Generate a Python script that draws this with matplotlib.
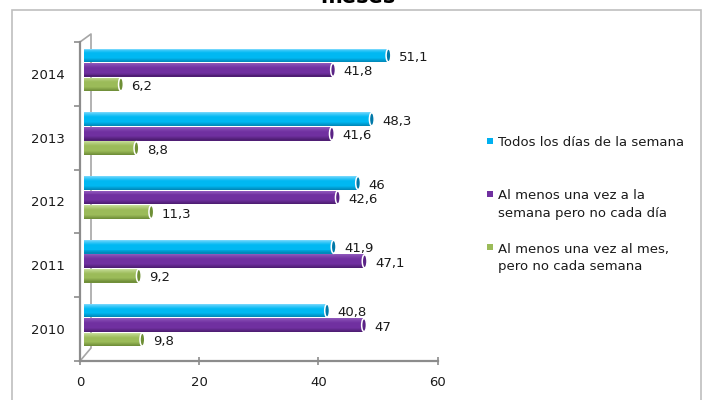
import numpy as np
import matplotlib
matplotlib.use("Agg")
import matplotlib.pyplot as plt
from matplotlib.patches import Ellipse, Rectangle
from matplotlib.transforms import ScaledTranslation

years = ["2010", "2011", "2012", "2013", "2014"]
series_names = ["Todos los días de la semana",
                "Al menos una vez a la\nsemana pero no cada día",
                "Al menos una vez al mes,\npero no cada semana"]
todos = [40.8, 41.9, 46.0, 48.3, 51.1]
semana = [47.0, 47.1, 42.6, 41.6, 41.8]
mes = [9.8, 9.2, 11.3, 8.8, 6.2]
x_ticks = [0, 20, 40, 60]
title = "meses"

series = [todos, semana, mes]
# (top highlight, main, bottom shade, cap)
palettes = [
    ("#8CDDFF", "#00B8F2", "#0085B5", "#0078A8"),
    ("#9560C0", "#7030A0", "#4A1C6E", "#5A2385"),
    ("#CFE3A6", "#9BBB59", "#6B8A36", "#6E8F35"),
]
legend_colors = ["#00B0F0", "#7030A0", "#9BBB59"]
group_offsets = [0.227, 0.0, -0.227]
bar_h = 0.21

W, H = 703, 400
fig = plt.figure(figsize=(W / 100, H / 100), dpi=100)
ax = fig.add_axes([80 / W, 39 / H, 357.5 / W, 319 / H])
ax.set_xlim(0, 60)
ax.set_ylim(-0.5, 4.5)

shift = ax.transData + ScaledTranslation(4 / 100, 4 / 100, fig.dpi_scale_trans)


def hex2rgb(h):
    return np.array(matplotlib.colors.to_rgb(h))


ypos = np.arange(len(years))
nstrip = 14
for s, vals in enumerate(series):
    top, mid, bot, cap = palettes[s]
    ct, cm, cb = hex2rgb(top), hex2rgb(mid), hex2rgb(bot)
    yc = ypos + group_offsets[s]
    for k in range(nstrip):
        f = (k + 0.5) / nstrip  # 0 top -> 1 bottom
        if f < 0.35:
            col = ct + (cm - ct) * (f / 0.35) ** 0.7
        elif f < 0.7:
            col = cm
        else:
            col = cm + (cb - cm) * ((f - 0.7) / 0.3)
        yk = yc + bar_h / 2 - (k + 0.5) * bar_h / nstrip
        bars = ax.barh(yk, vals, height=bar_h / nstrip * 1.35, left=0,
                       color=np.clip(col, 0, 1), linewidth=0, zorder=3)
        for b in bars:
            b.set_transform(shift)
    for v, y in zip(vals, yc):
        e = Ellipse((v, y), width=0.8, height=bar_h * 0.98, facecolor=cap,
                    edgecolor="white", linewidth=1.1, zorder=4, transform=shift)
        ax.add_patch(e)
        lab = f"{v:g}".replace(".", ",")
        ax.annotate(lab, xy=(v, y), xycoords=shift, xytext=(7.5, -1.5),
                    textcoords="offset points", ha="left", va="center",
                    fontsize=9.5, color="#1a1a1a", zorder=6)

# axes styling
for sp in ["top", "right"]:
    ax.spines[sp].set_visible(False)
for sp in ["bottom", "left"]:
    ax.spines[sp].set_color("#8C8C8C")
    ax.spines[sp].set_linewidth(1.6)
ax.set_xticks(x_ticks)
ax.set_xticklabels([str(t) for t in x_ticks])
ax.tick_params(axis="x", direction="inout", length=6, width=1.2, color="#8C8C8C",
               labelsize=9.5, pad=8, labelcolor="#1a1a1a")
ax.set_yticks(np.arange(-0.5, len(years), 1.0))
ax.set_yticklabels([])
ax.set_yticks(ypos, minor=True)
ax.set_yticklabels(years, minor=True)
ax.tick_params(axis="y", which="major", direction="out", length=4, width=1.2,
               color="#8C8C8C")
ax.tick_params(axis="y", which="minor", length=0, labelsize=9.5, pad=11,
               labelcolor="#1a1a1a")

# back wall (3D depth edge)
pts = [(80, 42), (91, 34), (91, 348), (80, 361)]
ax.plot([p[0] / W for p in pts], [1 - p[1] / H for p in pts],
        transform=fig.transFigure, clip_on=False, color="#A6A6A6", lw=1.2,
        zorder=1)

# chart frame
fig.add_artist(Rectangle((12 / W, -0.02), (701 - 12) / W, 1 - 10 / H + 0.02,
                         transform=fig.transFigure, fill=False,
                         edgecolor="#BFBFBF", linewidth=1.2))

# title (cut off at the top, as in the reference)
fig.text(358 / W, 1 - 3 / H, title, ha="center", va="baseline",
         fontsize=15, fontweight="bold", color="black")

# legend
leg_rows = [140.5, 193.5, 247.0]
for name, col, yrow in zip(series_names, legend_colors, leg_rows):
    fig.add_artist(Rectangle(((489.5 - 3) / W, 1 - (yrow + 3) / H), 6 / W, 6 / H,
                             transform=fig.transFigure, facecolor=col,
                             edgecolor="none"))
    for i, line in enumerate(name.split("\n")):
        fig.text(498 / W, 1 - (yrow + 2 + i * 17.5) / H, line, ha="left",
                 va="center", fontsize=9.5, color="#1a1a1a")

fig.savefig("out.png", dpi=100)
